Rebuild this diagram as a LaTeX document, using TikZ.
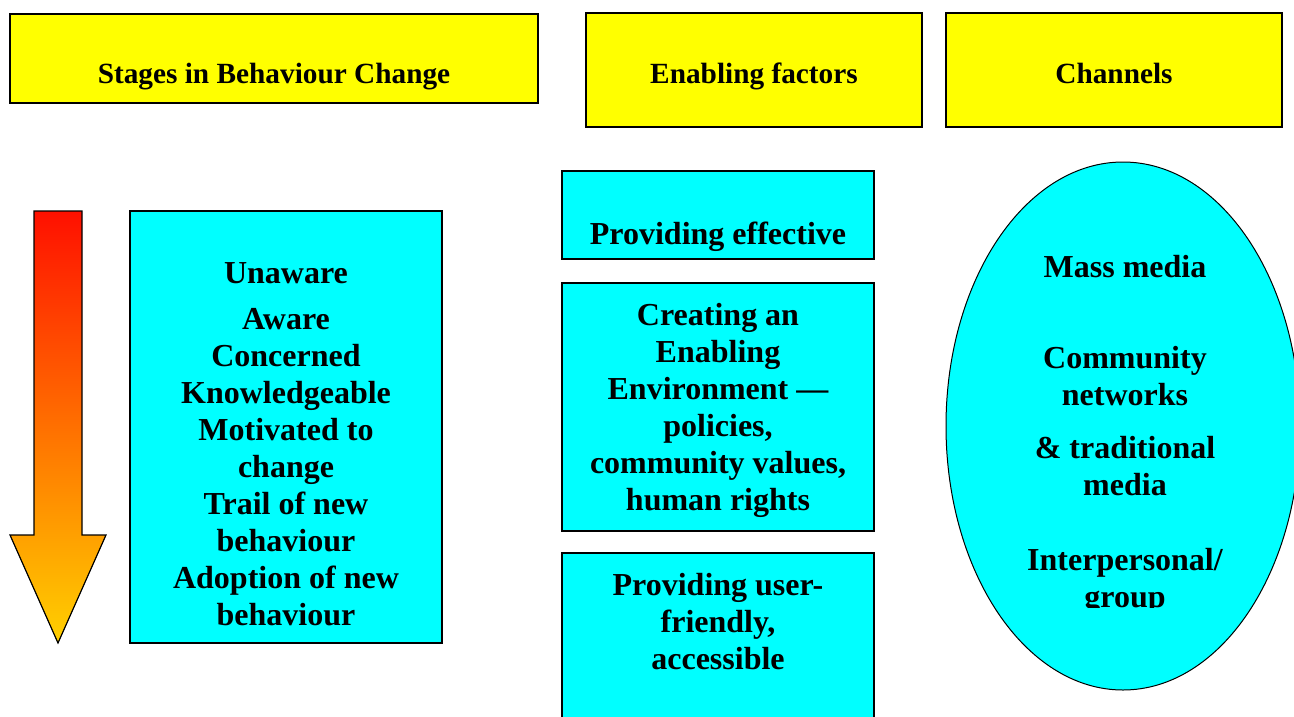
\documentclass[tikz,border=0pt]{standalone}
\usepackage{fontspec}
\setmainfont{Liberation Serif}
\usetikzlibrary{positioning,shapes.geometric}

\definecolor{boxcyan}{RGB}{0,255,255}
\definecolor{boxyellow}{RGB}{255,255,0}
\definecolor{arrowtop}{RGB}{255,16,0}
\definecolor{arrowbot}{RGB}{255,208,0}

\begin{document}
\begin{tikzpicture}
	[   x=1pt,y=-1pt,
	    hbox/.style={draw=black,line width=1.5pt,fill=boxyellow,rectangle,inner sep=0pt},
	    cbox/.style={draw=black,line width=1.2pt,fill=boxcyan,rectangle,inner sep=0pt},
	    txt/.style={font=\bfseries\fontsize{32}{37}\selectfont,align=center,inner sep=0pt,anchor=base},
	    htxt/.style={txt,font=\bfseries\fontsize{29.3}{35}\selectfont},
	]
	\clip (0,0) rectangle (1294,716);
	
	% column headers
	\node[hbox,minimum width=528pt,minimum height=89pt] (stages) at (274,58.5) {};
	\node[hbox,minimum width=336pt,minimum height=114pt] (enabling) at (754,70) {};
	\node[hbox,minimum width=336pt,minimum height=114pt] (channels) at (1114,70) {};
	\node[htxt] (stages-t) at (274,83) {Stages in Behaviour Change};
	\node[htxt] (enabling-t) at (754,83) {Enabling factors};
	\node[htxt] (channels-t) at (1114,83) {Channels};
	
	% downward arrow of the stages
	\path[draw=black,line width=1.2pt,top color=arrowtop,bottom color=arrowbot]
		(34,211) -- (82,211) -- (82,535) -- (106,535) -- (58,643) -- (10,535) -- (34,535) -- cycle;
	
	% text nodes sit on the baseline of their last line
	\node[cbox,minimum width=312pt,minimum height=432pt] (stagelist) at (286,427) {};
	\node[txt] (stagelist-t) at (286,625) {Unaware\\[9pt] Aware\\ Concerned\\ Knowledgeable\\
		Motivated to\\ change\\ Trail of new\\ behaviour\\ Adoption of new\\ behaviour};
	
	% enabling factors
	\node[cbox,minimum width=312pt,minimum height=88pt] (effective) at (718,215) {};
	\node[txt] (effective-t) at (718,244) {Providing effective};
	\node[cbox,minimum width=312pt,minimum height=248pt] (environment) at (718,407) {};
	\node[txt] (environment-t) at (718,510) {Creating an\\ Enabling\\ Environment —\\ policies,\\
		community values,\\ human rights};
	\node[cbox,minimum width=312pt,minimum height=177pt] (services) at (718,641.5) {};
	\node[txt] (services-t) at (718,669) {Providing user-\\ friendly,\\ accessible};
	
	% channels
	\node[ellipse,draw=black,line width=1pt,fill=boxcyan,minimum width=354pt,minimum height=528pt] (media) at (1123,426) {};
	\begin{scope}
		\clip (940,150) rectangle (1294,607);
		\node[txt] (media-t) at (1125,607) {Mass media\\[54pt] Community\\ networks\\[16pt]
			\& traditional\\ media\\[38pt] Interpersonal/\\ group};
	\end{scope}
\end{tikzpicture}
\end{document}
